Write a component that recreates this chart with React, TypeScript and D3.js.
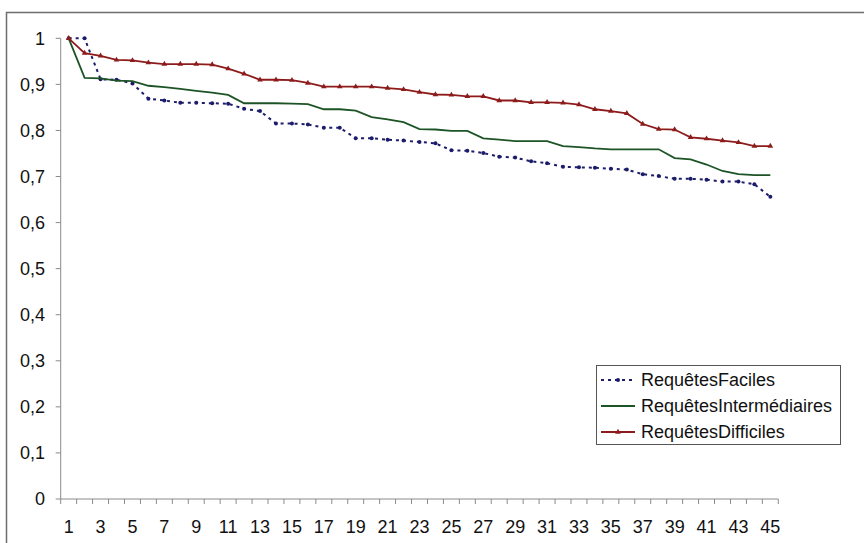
import React, { useEffect, useRef } from 'react';
import * as d3 from 'd3';

const categories = d3.range(1, 46);
const yTicks = [0, 0.1, 0.2, 0.3, 0.4, 0.5, 0.6, 0.7, 0.8, 0.9, 1];

const faciles = [1.0, 1.0, 0.911, 0.910, 0.902, 0.869, 0.865, 0.860, 0.860, 0.859, 0.858, 0.847, 0.842, 0.815, 0.815,
  0.813, 0.806, 0.806, 0.783, 0.783, 0.780, 0.778, 0.775, 0.772, 0.757, 0.756, 0.751, 0.743, 0.741, 0.733,
  0.729, 0.721, 0.720, 0.719, 0.717, 0.715, 0.705, 0.701, 0.695, 0.695, 0.693, 0.689, 0.689, 0.683, 0.656];
const intermediaires = [1.0, 0.914, 0.913, 0.908, 0.907, 0.897, 0.894, 0.890, 0.886, 0.882, 0.877, 0.859, 0.859, 0.859, 0.858,
  0.857, 0.846, 0.846, 0.843, 0.829, 0.824, 0.818, 0.803, 0.802, 0.799, 0.799, 0.783, 0.780, 0.777, 0.777,
  0.777, 0.766, 0.764, 0.761, 0.759, 0.759, 0.759, 0.759, 0.740, 0.737, 0.726, 0.712, 0.705, 0.703, 0.703];
const difficiles = [1.0, 0.968, 0.962, 0.953, 0.952, 0.947, 0.944, 0.944, 0.944, 0.943, 0.934, 0.923, 0.910, 0.910, 0.909,
  0.903, 0.895, 0.895, 0.895, 0.895, 0.892, 0.889, 0.883, 0.878, 0.877, 0.874, 0.874, 0.865, 0.865, 0.861,
  0.861, 0.860, 0.856, 0.846, 0.842, 0.837, 0.814, 0.803, 0.802, 0.785, 0.782, 0.778, 0.774, 0.766, 0.766];

const seriesNames = ['RequêtesFaciles', 'RequêtesIntermédiaires', 'RequêtesDifficiles'];
const seriesColors = ['#1c1c6b', '#1d5426', '#8e1b1b'];

export default function App() {
  const svgRef = useRef<SVGSVGElement>(null);

  useEffect(() => {
    document.body.style.margin = '0';
    if (!svgRef.current) return;
    const svg = d3.select(svgRef.current);
    svg.selectAll('*').remove();

    const font = '"Liberation Sans", Arial, sans-serif';
    const left = 60.7, right = 778.3, top = 38.3, bottom = 499;

    const x = d3.scaleBand<number>().domain(categories).range([left, right]);
    const y = d3.scaleLinear().domain([0, 1]).range([bottom, top]);
    const cx = (c: number) => x(c)! + x.bandwidth() / 2;

    // outer frame
    svg.append('rect')
      .attr('x', 6.5).attr('y', 12.5)
      .attr('width', 900).attr('height', 600)
      .attr('fill', 'none').attr('stroke', '#6e6e6e').attr('stroke-width', 1.5);

    const axisColor = '#8a8a8a';

    // y axis
    svg.append('line')
      .attr('x1', left).attr('x2', left).attr('y1', top).attr('y2', bottom)
      .attr('stroke', axisColor);
    yTicks.forEach(t => {
      svg.append('line')
        .attr('x1', left - 5).attr('x2', left).attr('y1', y(t)).attr('y2', y(t))
        .attr('stroke', axisColor);
      svg.append('text')
        .attr('x', 45).attr('y', y(t)).attr('dy', '0.35em')
        .attr('text-anchor', 'end')
        .attr('font-family', font).attr('font-size', 18).attr('fill', '#111')
        .text(String(t).replace('.', ','));
    });

    // x axis
    svg.append('line')
      .attr('x1', left).attr('x2', right).attr('y1', bottom).attr('y2', bottom)
      .attr('stroke', axisColor);
    [...categories.map(c => x(c)!), right].forEach(px => {
      svg.append('line')
        .attr('x1', px).attr('x2', px).attr('y1', bottom).attr('y2', bottom + 5)
        .attr('stroke', axisColor);
    });
    categories.filter(c => c % 2 === 1).forEach(c => {
      svg.append('text')
        .attr('x', cx(c)).attr('y', 533)
        .attr('text-anchor', 'middle')
        .attr('font-family', font).attr('font-size', 18).attr('fill', '#111')
        .text(c);
    });

    const line = d3.line<number>().x((_, i) => cx(categories[i])).y(d => y(d));

    // Faciles: dotted with dots
    svg.append('path').datum(faciles)
      .attr('d', line).attr('fill', 'none')
      .attr('stroke', seriesColors[0]).attr('stroke-width', 2)
      .attr('stroke-dasharray', '3,4');
    svg.selectAll('.pf').data(faciles).enter().append('circle')
      .attr('cx', (_, i) => cx(categories[i])).attr('cy', d => y(d))
      .attr('r', 2).attr('fill', seriesColors[0]);

    // Intermédiaires: solid
    svg.append('path').datum(intermediaires)
      .attr('d', line).attr('fill', 'none')
      .attr('stroke', seriesColors[1]).attr('stroke-width', 1.8);

    // Difficiles: solid with small markers
    svg.append('path').datum(difficiles)
      .attr('d', line).attr('fill', 'none')
      .attr('stroke', seriesColors[2]).attr('stroke-width', 1.8);
    svg.selectAll('.pd').data(difficiles).enter().append('path')
      .attr('transform', (d, i) => `translate(${cx(categories[i])},${y(d)})`)
      .attr('d', d3.symbol(d3.symbolTriangle, 14)())
      .attr('fill', seriesColors[2]);

    // legend
    const lg = svg.append('g');
    lg.append('rect')
      .attr('x', 596.5).attr('y', 365.5).attr('width', 244).attr('height', 79)
      .attr('fill', '#fff').attr('stroke', '#555');
    seriesNames.forEach((name, i) => {
      const ly = 380 + i * 26;
      const l = lg.append('line')
        .attr('x1', 601).attr('x2', 635).attr('y1', ly).attr('y2', ly)
        .attr('stroke', seriesColors[i]).attr('stroke-width', 1.8);
      if (i === 0) {
        l.attr('stroke-dasharray', '3,4').attr('stroke-width', 2);
        lg.append('circle').attr('cx', 618).attr('cy', ly).attr('r', 2).attr('fill', seriesColors[0]);
      }
      if (i === 2) {
        lg.append('path').attr('transform', `translate(618,${ly})`)
          .attr('d', d3.symbol(d3.symbolTriangle, 14)()).attr('fill', seriesColors[2]);
      }
      lg.append('text')
        .attr('x', 641).attr('y', ly).attr('dy', '0.35em')
        .attr('font-family', font).attr('font-size', 18).attr('fill', '#111')
        .text(name);
    });
  }, []);

  return <svg ref={svgRef} width={864} height={543} style={{ display: 'block', background: '#fff' }} />;
}
